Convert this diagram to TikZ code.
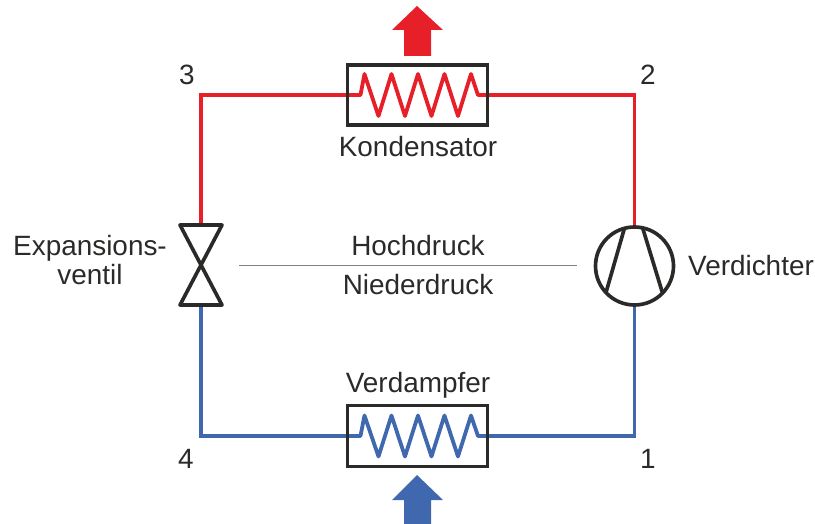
\documentclass[tikz,border=0pt]{standalone}
\usepackage{fontspec}
\setmainfont{Liberation Sans}
\usepackage{xcolor}
\usetikzlibrary{positioning, calc}
\definecolor{hotred}{HTML}{E61F28}
\definecolor{coldblue}{HTML}{3F68AE}
\definecolor{darkline}{HTML}{2B2A29}

\begin{document}
\begin{tikzpicture}[
    x=0.025cm, y=-0.025cm,
    exchanger/.style={draw=darkline, line width=2.6pt, minimum width=3.5cm, minimum height=#1, inner sep=0pt, outer sep=0pt},
    valvebox/.style={minimum width=1.05cm, minimum height=2cm, inner sep=0pt, outer sep=0pt},
    symbolline/.style={draw=darkline, line width=2.6pt, line join=round, line cap=round},
    pipe/.style={draw=#1, line width=2.5pt, line join=miter},
    coil/.style={draw=#1, line width=2.7pt, line join=round},
    label/.style={font=\fontsize{19.85}{20.6}\selectfont, text=darkline, align=center, inner sep=0pt},
]
\useasboundingbox (0,0) rectangle (815,524);
% Components
\node[exchanger=1.5cm] (kond) at (417.5,95) {};
\node[exchanger=1.525cm] (verd) at (417.5,436) {};
\node[valvebox] (valve) at (201,265) {};
\node[circle, minimum size=1.95cm, inner sep=0pt, outer sep=0pt] (comp) at (634.5,266) {};
% Pipes
\draw[pipe=hotred] (valve.north) |- (kond.west);
\draw[pipe=hotred] (kond.east) -| (comp.north);
\draw[pipe=coldblue] (valve.south) |- (verd.west);
\draw[pipe=coldblue] (verd.east) -| (comp.south);
% Coils
\draw[coil=hotred] (kond.west) -- ++(13,0) -- ++(4,-21) -- ++(14,42) -- ++(13,-42) -- ++(13.5,42) -- ++(13,-42) -- ++(13.5,42) -- ++(13,-42) -- ++(13.5,42) -- ++(13,-42) -- ++(7,21) -- (kond.east);
\draw[coil=coldblue] (verd.west) -- ++(13,0) -- ++(4,-20.5) -- ++(14,41) -- ++(13,-41) -- ++(13.5,41) -- ++(13,-41) -- ++(13.5,41) -- ++(13,-41) -- ++(13.5,41) -- ++(13,-41) -- ++(7,20.5) -- (verd.east);
% Symbols on top of the pipes
\node[exchanger=1.5cm] at (kond) {};
\node[exchanger=1.525cm] at (verd) {};
\draw[symbolline] (valve.north west) -- (valve.south east) -- (valve.south west) -- (valve.north east) -- cycle;
\draw[symbolline] (comp) circle (39);
\draw[symbolline] (comp.105) -- (comp.223);
\draw[symbolline] (comp.78) -- (comp.316);
% Heat arrows
\fill[hotred] (417,6) -- (443,30) -- (431,30) -- (431,56) -- (404,56) -- (404,30) -- (392,30) -- cycle;
\fill[coldblue] (417,475) -- (443,500) -- (431,500) -- (431,524) -- (404,524) -- (404,500) -- (392,500) -- cycle;
% Divider
\coordinate (divl) at (239,265);
\coordinate (divr) at (577,265);
\draw[gray, line width=0.6pt] (divl) -- (divr);
% Labels
\node[label] (l3) at (187,75) {3};
\node[label] (l2) at (648,75) {2};
\node[label] (l4) at (186,459) {4};
\node[label] (l1) at (648,459) {1};
\node[label] (lkond) at (418,147) {Kondensator};
\node[label] (lverd) at (418,385) {Verdampfer};
\node[label] (lhoch) at (418,246) {Hochdruck};
\node[label] (lnieder) at (418,285) {Niederdruck};
\node[label] (lcomp) at (751,265.5) {Verdichter};
\node[label] (lvalve) at (90,260) {Expansions-\\ventil};
\end{tikzpicture}
\end{document}
